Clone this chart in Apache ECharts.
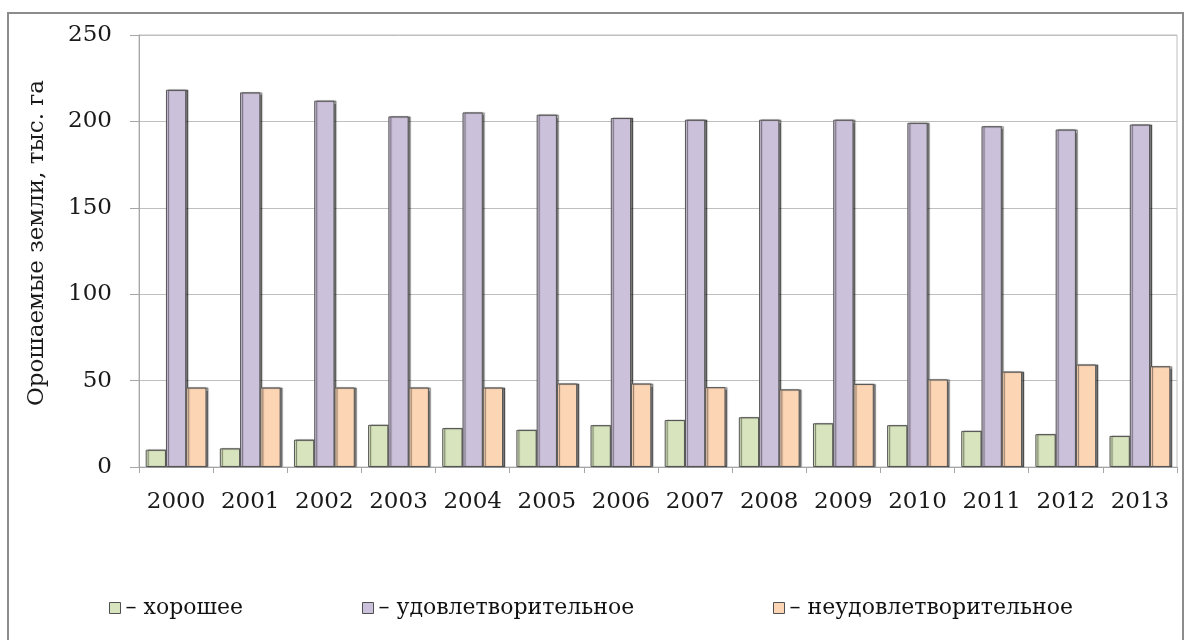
<!DOCTYPE html>
<html>
<head>
<meta charset="utf-8">
<script src="https://cdn.jsdelivr.net/npm/echarts@6/dist/echarts.min.js"></script>
<style>
html,body{margin:0;padding:0;background:#fff;}
#chart{width:1187px;height:640px;}
</style>
</head>
<body>
<div id="chart"></div>
<script>
const years = ['2000','2001','2002','2003','2004','2005','2006','2007','2008','2009','2010','2011','2012','2013'];
const seriesNames = ['хорошее','удовлетворительное','неудовлетворительное'];
const good = [10, 10.8, 15.8, 24.4, 22.5, 21.5, 24.2, 27.2, 28.8, 25.3, 24.2, 20.9, 19, 18];
const satisfactory = [218.3, 216.8, 212, 202.9, 205.2, 203.9, 202, 201, 201, 201, 199.2, 197.2, 195.3, 198.2];
const unsatisfactory = [46, 46, 46, 46, 46, 48.3, 48.3, 46.2, 44.9, 48.1, 50.7, 55.2, 59.3, 58.3];
const yAxisTitle = 'Орошаемые земли, тыс. га';

const colors = ['#d7e4bd', '#ccc1da', '#fcd5b5'];
const FONT = 'DejaVu Serif';
const chart = echarts.init(document.getElementById('chart'), null, {renderer: 'canvas'});

function barSeries(name, data, color) {
  return {
    name: name,
    type: 'bar',
    data: data,
    barGap: '0%',
    barCategoryGap: '18%',
    itemStyle: {
      color: color,
      borderColor: '#555555',
      borderWidth: 1,
      shadowColor: 'rgba(0,0,0,0.5)',
      shadowBlur: 1,
      shadowOffsetX: 2,
      shadowOffsetY: 0
    },
    emphasis: {disabled: true}
  };
}

const legendLefts = [104, 357, 768];
const legends = seriesNames.map((n, i) => ({
  data: [n],
  left: legendLefts[i],
  top: 592,
  itemWidth: 11,
  itemHeight: 11,
  icon: 'rect',
  itemStyle: {borderColor: '#505050', borderWidth: 1, shadowBlur: 0, shadowColor: 'transparent', shadowOffsetX: 0, shadowOffsetY: 0},
  formatter: '– {name}',
  textStyle: {fontFamily: FONT, fontSize: 22, color: '#111'},
  selectedMode: false
}));

chart.setOption({
  animation: false,
  backgroundColor: '#fff',
  graphic: [{
    type: 'rect',
    shape: {x: 8, y: 13, width: 1175, height: 640},
    style: {fill: 'none', stroke: '#8c8c8c', lineWidth: 2},
    silent: true
  }],
  grid: {
    left: 139, right: 10, top: 35, bottom: 173,
    show: true, borderColor: '#bfbfbf', borderWidth: 1, backgroundColor: 'transparent'
  },
  legend: legends,
  xAxis: {
    type: 'category',
    data: years,
    boundaryGap: true,
    axisLine: {lineStyle: {color: '#a6a6a6', width: 1}},
    axisTick: {show: true, length: 6, lineStyle: {color: '#a6a6a6'}},
    axisLabel: {fontFamily: FONT, fontSize: 23, color: '#1a1a1a', margin: 24, interval: 0}
  },
  yAxis: {
    type: 'value',
    min: 0, max: 250, interval: 50,
    name: yAxisTitle,
    nameLocation: 'middle',
    nameRotate: 90,
    nameGap: 90,
    nameTextStyle: {fontFamily: FONT, fontSize: 23, color: '#1a1a1a', padding: [0, 0, 0, 16]},
    axisLine: {show: true, lineStyle: {color: '#a6a6a6', width: 1}},
    axisTick: {show: true, length: 9, lineStyle: {color: '#a6a6a6'}},
    axisLabel: {fontFamily: FONT, fontSize: 23, color: '#1a1a1a', margin: 27},
    splitLine: {lineStyle: {color: '#bfbfbf', width: 1}}
  },
  series: [
    barSeries(seriesNames[0], good, colors[0]),
    barSeries(seriesNames[1], satisfactory, colors[1]),
    barSeries(seriesNames[2], unsatisfactory, colors[2])
  ]
});
</script>
</body>
</html>
